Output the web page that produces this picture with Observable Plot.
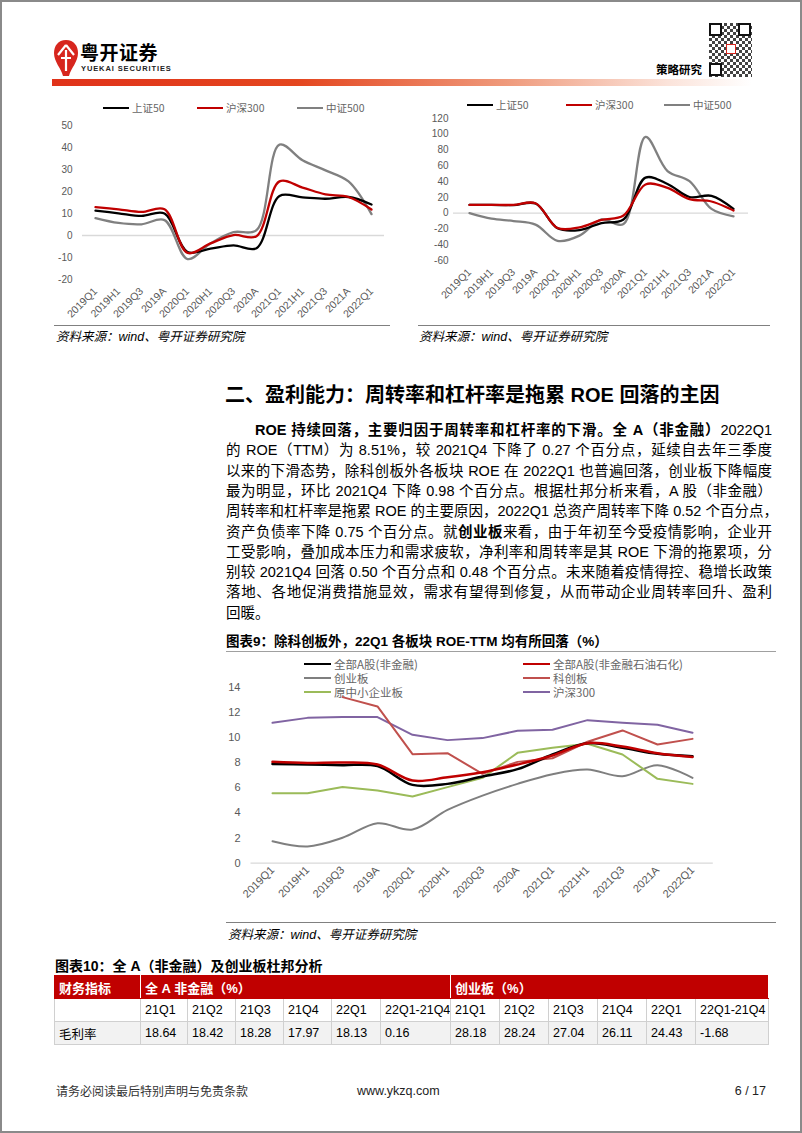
<!DOCTYPE html>
<html><head><meta charset="utf-8">
<script src="https://cdn.jsdelivr.net/npm/d3@7"></script>
<script src="https://cdn.jsdelivr.net/npm/@observablehq/plot@0.6"></script>
<style>
body{margin:0;background:#fff;}
#page{position:relative;width:802px;height:1133px;overflow:hidden;background:#fff;font-family:"Liberation Sans","Noto Sans CJK SC",sans-serif;color:#000;}
#frame{position:absolute;left:0;top:0;width:802px;height:1133px;box-sizing:border-box;border:2px solid #8a8a8a;pointer-events:none;}
.abs{position:absolute;white-space:nowrap;}
.body-line{position:absolute;left:226px;width:546px;height:20px;line-height:20px;font-size:14.5px;text-align:justify;text-align-last:justify;white-space:nowrap;}
.leg{position:absolute;font-family:"Noto Sans CJK SC",sans-serif;color:#666;white-space:nowrap;display:flex;align-items:center;}
.leg i{display:inline-block;height:2.5px;margin-right:3px;}
.cap{position:absolute;font-style:italic;font-size:12.5px;white-space:nowrap;}
.hr{position:absolute;height:1px;background:#808080;}
table{border-collapse:collapse;position:absolute;left:54px;top:975px;table-layout:fixed;font-size:12.5px;}
td{height:22px;padding:0 0 0 4px;border:1px solid #d0d0d0;white-space:nowrap;overflow:hidden;}
tr.hd td{background:#c00000;color:#fff;font-weight:bold;border:1px solid #c00000;border-right:1px solid #fff;font-size:13px;}
tr.gr td{background:#f2f2f2;}
</style></head>
<body><div id="page">
<div id="frame"></div>

<!-- header -->
<svg class="abs" style="left:52px;top:38px" width="28" height="40" viewBox="0 0 28 40">
  <path d="M14 2 C6 2 2 8 2 15 C2 24 9 30 11 38 L17 38 C19 30 26 24 26 15 C26 8 22 2 14 2 Z" fill="#d7261e"/>
  <path d="M14 7 L6 17 M14 7 L22 17 M14 12 L14 33 M9 20 L19 20" stroke="#fff" stroke-width="2.2" fill="none"/>
</svg>
<div class="abs" style="left:80px;top:40px;font-size:19px;font-weight:bold;font-family:'Noto Sans CJK SC';letter-spacing:0.5px;line-height:24px;">粤开证券</div>
<div class="abs" style="left:81px;top:64px;font-size:7.5px;letter-spacing:0.9px;line-height:9px;font-weight:bold;color:#222;">YUEKAI SECURITIES</div>
<div class="abs" style="left:52px;top:79px;width:700px;height:7px;background:linear-gradient(to right,#e0321a 0%,#e4461f 35%,#ef9a7c 65%,#fbe3da 88%,#fff 100%);"></div>
<div class="abs" style="left:656px;top:62px;font-size:11.5px;font-weight:bold;font-family:'Noto Sans CJK SC';line-height:14px;">策略研究</div>
<div class="abs" style="left:709px;top:23px;width:43px;height:54px;background:repeating-conic-gradient(#222 0 25%,#fff 0 50%) 0 0/6px 6px;opacity:0.85;"></div>
<div class="abs" style="left:709px;top:23px;width:9px;height:9px;border:2.5px solid #111;background:#fff;"></div>
<div class="abs" style="left:738px;top:23px;width:9px;height:9px;border:2.5px solid #111;background:#fff;"></div>
<div class="abs" style="left:709px;top:63px;width:9px;height:9px;border:2.5px solid #111;background:#fff;"></div>
<div class="abs" style="left:726px;top:44px;width:8px;height:8px;background:#fff;border:1px solid #d7261e;"></div>

<!-- chart 1 -->
<div id="leg1"></div>
<div id="chart1" class="abs" style="left:40px;top:115px;"></div>
<div class="hr" style="left:54px;top:325px;width:336px;"></div>
<div class="cap" style="left:56px;top:329px;line-height:16px;">资料来源：wind、粤开证券研究院</div>

<!-- chart 2 -->
<div id="leg2"></div>
<div id="chart2" class="abs" style="left:410px;top:105px;"></div>
<div class="hr" style="left:418px;top:325px;width:352px;"></div>
<div class="cap" style="left:419px;top:329px;line-height:16px;">资料来源：wind、粤开证券研究院</div>

<!-- section heading and body -->
<div class="abs" style="left:225px;top:382px;font-size:20px;font-weight:bold;line-height:26px;">二、盈利能力：周转率和杠杆率是拖累 ROE 回落的主因</div>
<div id="body"></div>

<!-- chart 9 -->
<div class="abs" style="left:226px;top:633px;font-size:13.5px;font-weight:bold;line-height:18px;">图表9：除科创板外，22Q1 各板块 ROE-TTM 均有所回落（%）</div>
<div class="hr" style="left:226px;top:651px;width:550px;background:#a0a0a0;"></div>
<div id="leg9"></div>
<div id="chart9" class="abs" style="left:200px;top:675px;"></div>
<div class="hr" style="left:226px;top:922px;width:550px;"></div>
<div class="cap" style="left:228px;top:927px;line-height:16px;">资料来源：wind、粤开证券研究院</div>

<!-- table -->
<div class="abs" style="left:55px;top:957px;font-size:14px;font-weight:bold;line-height:18px;">图表10：全 A（非金融）及创业板杜邦分析</div>
<table id="tbl"></table>

<!-- footer -->
<div class="abs" style="left:56px;top:1083px;font-size:12px;line-height:16px;color:#333;font-family:'Noto Sans CJK SC';">请务必阅读最后特别声明与免责条款</div>
<div class="abs" style="left:357px;top:1083px;font-size:12.5px;line-height:16px;color:#222;">www.ykzq.com</div>
<div class="abs" style="left:726px;top:1083px;width:40px;text-align:right;font-size:12.5px;line-height:16px;color:#222;">6 / 17</div>
</div>

<script>
// ---------- data ----------
const periods = ["2019Q1","2019H1","2019Q3","2019A","2020Q1","2020H1","2020Q3","2020A","2021Q1","2021H1","2021Q3","2021A","2022Q1"];
const indexNames = ["上证50","沪深300","中证500"];
const indexColors = ["#000000","#c00000","#808080"];
// left chart
const a_sz50  = [11.3,10.1,8.9,10.0,-7.5,-6.0,-4.5,-5.8,18.0,17.3,16.7,17.5,14.1];
const a_hs300 = [12.9,11.9,10.7,11.9,-7.9,-3.6,0.2,-0.3,24.6,21.8,18.7,17.5,11.8];
const a_zz500 = [7.9,5.7,5.1,7.0,-10.7,-3.6,1.5,2.4,41.3,34.2,29.6,24.6,9.7];
const a_yTicks = [-20,-10,0,10,20,30,40,50];
// right chart
const b_sz50  = [10.5,10.5,10.2,12.2,-19.2,-21.5,-12.5,-8.0,45.0,37.0,20.5,22.0,5.4];
const b_hs300 = [10.5,10.5,10.5,12.5,-18.8,-18.0,-8.6,-3.0,36.4,32.0,17.7,14.8,3.3];
const b_zz500 = [0.0,-7.0,-10.0,-14.5,-35.0,-28.5,-8.0,-13.8,96.7,53.4,40.6,5.4,-4.0];
const b_yTicks = [-60,-40,-20,0,20,40,60,80,100,120];
// chart 9 ROE-TTM
const roeNames  = ["全部A股(非金融)","全部A股(非金融石油石化)","创业板","科创板","原中小企业板","沪深300"];
const roeColors = ["#000000","#c00000","#7f7f7f","#c0504d","#9bbb59","#8064a2"];
const roeAllA      = [7.90,7.85,7.80,7.72,6.23,6.31,6.90,7.48,8.65,9.55,9.18,8.70,8.51];
const roeAllAexOil = [8.06,7.98,8.01,7.85,6.58,6.84,7.24,7.85,8.57,9.55,9.28,8.75,8.44];
const roeChiNext   = [1.75,1.33,2.02,3.18,2.68,4.24,5.38,6.31,7.08,7.45,6.92,7.80,6.79];
const roeStar      = [null,null,13.21,12.47,8.67,8.75,7.11,8.06,8.35,9.66,10.56,9.44,9.89];
const roeSME       = [5.57,5.57,6.07,5.78,5.31,6.05,6.79,8.78,9.18,9.50,8.65,6.71,6.31];
const roeHS300     = [11.17,11.56,11.62,11.62,10.21,9.79,9.95,10.53,10.61,11.38,11.17,11.01,10.37];
const roeYTicks = [0,2,4,6,8,10,12,14];
// table
const tblHead = ["财务指标","全 A 非金融（%）","创业板（%）"];
const tblQuarters = ["21Q1","21Q2","21Q3","21Q4","22Q1","22Q1-21Q4"];
const tblRowName = "毛利率";
const grossA = ["18.64","18.42","18.28","17.97","18.13","0.16"];
const grossB = ["28.18","28.24","27.04","26.11","24.43","-1.68"];
// body text lines
const bodyLines = [
  [["b","ROE 持续回落，主要归因于周转率和杠杆率的下滑。全 A（非金融）"],["n","2022Q1"]],
  [["n","的 ROE（TTM）为 8.51%，较 2021Q4 下降了 0.27 个百分点，延续自去年三季度"]],
  [["n","以来的下滑态势，除科创板外各板块 ROE 在 2022Q1 也普遍回落，创业板下降幅度"]],
  [["n","最为明显，环比 2021Q4 下降 0.98 个百分点。根据杜邦分析来看，A 股（非金融）"]],
  [["n","周转率和杠杆率是拖累 ROE 的主要原因，2022Q1 总资产周转率下降 0.52 个百分点，"]],
  [["n","资产负债率下降 0.75 个百分点。就"],["b","创业板"],["n","来看，由于年初至今受疫情影响，企业开"]],
  [["n","工受影响，叠加成本压力和需求疲软，净利率和周转率是其 ROE 下滑的拖累项，分"]],
  [["n","别较 2021Q4 回落 0.50 个百分点和 0.48 个百分点。未来随着疫情得控、稳增长政策"]],
  [["n","落地、各地促消费措施显效，需求有望得到修复，从而带动企业周转率回升、盈利"]],
  [["n","回暖。"]]
];

// ---------- body ----------
const bodyEl = document.getElementById("body");
bodyLines.forEach((parts,i)=>{
  const d = document.createElement("div");
  d.className = "body-line";
  d.style.top = (420 + i*20.3) + "px";
  if (i === 0) d.style.textIndent = "29px";
  if (i === bodyLines.length-1) d.style.textAlignLast = "left";
  parts.forEach(([k,t])=>{
    const s = document.createElement("span");
    if (k === "b") s.style.fontWeight = "bold";
    s.textContent = t;
    d.appendChild(s);
  });
  bodyEl.appendChild(d);
});

// ---------- legends ----------
function legend(id, items, fs, lineW, rowH){
  const host = document.getElementById(id);
  items.forEach(it=>{
    const d = document.createElement("div");
    d.className = "leg";
    d.style.left = it.x + "px"; d.style.top = (it.y - rowH/2) + "px";
    d.style.height = rowH + "px"; d.style.lineHeight = rowH + "px"; d.style.fontSize = fs + "px";
    const l = document.createElement("i");
    l.style.width = lineW + "px"; l.style.background = it.color; l.style.height = it.h + "px";
    d.appendChild(l);
    d.appendChild(document.createTextNode(it.name));
    host.appendChild(d);
  });
}
legend("leg1", [
  {x:103,y:108,name:indexNames[0],color:indexColors[0],h:2.5},
  {x:197,y:108,name:indexNames[1],color:indexColors[1],h:2.5},
  {x:297,y:108,name:indexNames[2],color:indexColors[2],h:2.5}], 10.5, 26, 14);
legend("leg2", [
  {x:467,y:105,name:indexNames[0],color:indexColors[0],h:2.5},
  {x:566,y:105,name:indexNames[1],color:indexColors[1],h:2.5},
  {x:664,y:105,name:indexNames[2],color:indexColors[2],h:2.5}], 10.5, 26, 14);
legend("leg9", [
  {x:304,y:664,name:roeNames[0],color:roeColors[0],h:2.5},
  {x:523,y:664,name:roeNames[1],color:roeColors[1],h:2.5},
  {x:304,y:678,name:roeNames[2],color:roeColors[2],h:2},
  {x:523,y:678,name:roeNames[3],color:roeColors[3],h:2},
  {x:304,y:692,name:roeNames[4],color:roeColors[4],h:2},
  {x:523,y:692,name:roeNames[5],color:roeColors[5],h:2}], 11.5, 27, 13);

// ---------- charts ----------
function rowsOf(name, vals){ return periods.map((p,i)=>({s:name,p,v:vals[i]})).filter(d=>d.v!=null); }
function makeChart(o){
  return Plot.plot({
    width:o.w, height:o.h, marginTop:o.mt, marginBottom:o.mb, marginLeft:o.ml, marginRight:o.mr,
    style:{fontFamily:"Liberation Sans, Arial, sans-serif", fontSize:o.fs+"px", color:"#595959", background:"transparent", overflow:"visible"},
    x:{type:"point", domain:periods, padding:0.5},
    y:{domain:o.yDomain},
    marks:[
      Plot.ruleY([0], {stroke:"#d9d9d9", strokeWidth:1.3}),
      Plot.axisY({ticks:o.yTicks, tickSize:0, tickPadding:o.yPad, tickFormat:d=>String(d), label:null}),
      Plot.axisX({tickSize:0, tickRotate:-45, tickPadding:o.xPad, label:null, fontSize:o.xfs}),
      ...o.series.map(s=>Plot.line(rowsOf(s.name,s.values),{x:"p", y:"v", stroke:s.color, strokeWidth:s.w, curve:s.curve}))
    ]
  });
}
document.getElementById("chart1").appendChild(makeChart({
  w:350,h:210,mt:10,mb:46,ml:42,mr:6,fs:10,xfs:10.5,yPad:10,xPad:10,yDomain:[-20,50],yTicks:a_yTicks,
  series:[
    {name:indexNames[2],values:a_zz500,color:indexColors[2],w:2.3,curve:"catmull-rom"},
    {name:indexNames[0],values:a_sz50,color:indexColors[0],w:2.3,curve:"catmull-rom"},
    {name:indexNames[1],values:a_hs300,color:indexColors[1],w:2.3,curve:"catmull-rom"}
  ]}));
document.getElementById("chart2").appendChild(makeChart({
  w:365,h:220,mt:13,mb:65,ml:43,mr:27,fs:10,xfs:10.5,yPad:5,xPad:10,yDomain:[-60,120],yTicks:b_yTicks,
  series:[
    {name:indexNames[2],values:b_zz500,color:indexColors[2],w:2.3,curve:"catmull-rom"},
    {name:indexNames[0],values:b_sz50,color:indexColors[0],w:2.3,curve:"catmull-rom"},
    {name:indexNames[1],values:b_hs300,color:indexColors[1],w:2.3,curve:"catmull-rom"}
  ]}));
document.getElementById("chart9").appendChild(makeChart({
  w:530,h:240,mt:11.7,mb:52.3,ml:50.5,mr:17.2,fs:11,xfs:11,yPad:10.5,xPad:5,yDomain:[0,14],yTicks:roeYTicks,
  series:[
    {name:roeNames[2],values:roeChiNext,color:roeColors[2],w:2,curve:"catmull-rom"},
    {name:roeNames[4],values:roeSME,color:roeColors[4],w:2,curve:"linear"},
    {name:roeNames[5],values:roeHS300,color:roeColors[5],w:2,curve:"linear"},
    {name:roeNames[3],values:roeStar,color:roeColors[3],w:2,curve:"linear"},
    {name:roeNames[0],values:roeAllA,color:roeColors[0],w:2.5,curve:"catmull-rom"},
    {name:roeNames[1],values:roeAllAexOil,color:roeColors[1],w:2.5,curve:"catmull-rom"}
  ]}));

// ---------- table ----------
const colW = [86,47,48,48,48,49,70,49,49,49,49,49,73];
const tbl = document.getElementById("tbl");
const cg = document.createElement("colgroup");
colW.forEach(w=>{const c=document.createElement("col"); c.style.width=w+"px"; cg.appendChild(c);});
tbl.appendChild(cg);
tbl.style.width = colW.reduce((a,b)=>a+b,0) + "px";
function addRow(cells, cls){
  const tr = document.createElement("tr"); if (cls) tr.className = cls;
  cells.forEach(([t,span])=>{const td=document.createElement("td"); td.textContent=t; if(span) td.colSpan=span; tr.appendChild(td);});
  tbl.appendChild(tr);
}
addRow([[tblHead[0]],[tblHead[1],6],[tblHead[2],6]], "hd");
addRow([[""],...tblQuarters.map(q=>[q]),...tblQuarters.map(q=>[q])]);
addRow([[tblRowName],...grossA.map(v=>[v]),...grossB.map(v=>[v])], "gr");
</script>
</body></html>
